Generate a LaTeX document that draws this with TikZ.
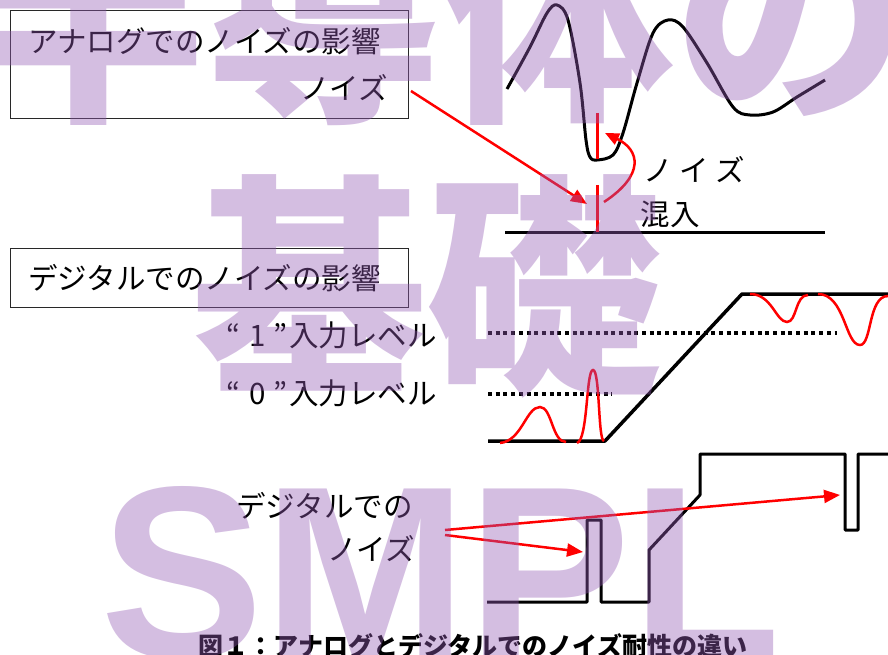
\documentclass[tikz,border=0pt]{standalone}
\usepackage{fontspec}
\setmainfont{Noto Sans CJK JP}
\newfontfamily\jp{Noto Sans CJK JP}
\newfontfamily\wmlat{Liberation Sans}
\usetikzlibrary{arrows.meta}
\definecolor{wm}{RGB}{148,92,180}
\definecolor{boxline}{RGB}{40,40,40}
\begin{document}
\begin{tikzpicture}[x=1pt,y=-1pt,
 lbl/.style={font=\jp\fontsize{29.5}{32}\selectfont, inner sep=0pt},
 frame/.style={draw=boxline, line width=1pt, inner sep=0pt, anchor=north west},
 wave/.style={line width=3pt, line join=round},
 noise/.style={red, line width=2.5pt},
 redarrow/.style={red, line width=2.5pt, -{Triangle[length=16pt,width=13pt]}},
 dotl/.style={line width=3.5pt, dash pattern=on 4pt off 3.7pt},
 wmtext/.style={text=wm, opacity=0.4, inner sep=0pt, anchor=base west}
]
\useasboundingbox (0,0) rectangle (888,655);
% ---------- analog ----------
\node[frame, minimum width=398pt, minimum height=108pt] (abox) at (10,10) {};
\node[lbl, anchor=west] (atitle) at (28,41) {アナログでのノイズの影響};
\node[lbl, anchor=east] (anoise) at (388,88) {ノイズ};
\draw[wave] plot[smooth, tension=0.55] coordinates {(507,89) (530,47) (547,13) (557,5) (568,20) (580,83) (586,140) (590,157) (597,160) (613,155) (623,133) (637,83) (653,33) (668,20) (683,27) (707,63) (733,107) (750,115) (773,112) (797,97) (825,80)};
\coordinate (abl) at (505,232); \coordinate (abr) at (825,232);
\draw[wave] (abl) -- (abr);
\coordinate (n1t) at (597,113); \coordinate (n1b) at (597,159);
\coordinate (n2t) at (597,185); \coordinate (n2b) at (597,232);
\draw[red, line width=3pt] (n1t) -- (n1b);
\draw[red, line width=3pt] (n2t) -- (n2b);
\coordinate (arA) at (411,91); \coordinate (arAt) at (587,204);
\draw[redarrow] (arA) -- (arAt);
\coordinate (cuS) at (604,202); \coordinate (cuE) at (605,133);
\draw[red, line width=2.5pt, -{Triangle[length=14pt,width=12pt]}] (cuS) .. controls (645,175) and (640,150) .. (cuE);
\node[lbl] (nzlbl) at (694,170) {ノ イ ズ};
\node[lbl] (konyu) at (670,214) {混入};
% ---------- digital ----------
\node[frame, minimum width=398pt, minimum height=59pt] (dbox) at (10,248) {};
\node[lbl, anchor=west] (dtitle) at (28,278) {デジタルでのノイズの影響};
\node[lbl, anchor=east] (one) at (437,335) {“\hspace{9pt}1\hspace{7pt}”\hspace{2pt}入力レベル};
\node[lbl, anchor=east] (zero) at (437,393) {“\hspace{9pt}0\hspace{7pt}”\hspace{2pt}入力レベル};
\coordinate (d1a) at (488,333); \coordinate (d1b) at (837,333);
\coordinate (d0a) at (488,394); \coordinate (d0b) at (612,394);
\draw[dotl] (d1a) -- (d1b);
\draw[dotl] (d0a) -- (d0b);
\draw[line width=3.5pt, line join=round] (488,441) -- (605,441) -- (742,294) -- (888,294);
\draw[noise] (500,443) .. controls (522,441) and (526,407) .. (540,407) .. controls (552,407) and (552,442) .. (566,442);
\draw[noise] (577,443) .. controls (588,440) and (586,370) .. (593,370) .. controls (600,370) and (598,441) .. (604,441);
\draw[noise] (750,294) .. controls (772,294) and (776,322) .. (787,322) .. controls (797,322) and (795,295) .. (808,295);
\draw[noise] (818,294) .. controls (845,294) and (845,345) .. (860,345) .. controls (872,345) and (868,296) .. (888,296);
% ---------- digital noise ----------
\draw[wave] (487,602) -- (587,602) -- (587,520) -- (601,520) -- (601,602) -- (649,602) -- (649,550) -- (700,495) -- (700,454) -- (845,454) -- (845,530) -- (858,530) -- (858,454) -- (888,454);
\node[lbl, anchor=east] (dl1) at (413,506) {デジタルでの};
\node[lbl, anchor=east] (dl2) at (415,549) {ノイズ};
\coordinate (dn1) at (445,530); \coordinate (dn1t) at (840,495);
\coordinate (dn2) at (445,535); \coordinate (dn2t) at (583,552);
\draw[redarrow] (dn1) -- (dn1t);
\draw[redarrow] (dn2) -- (dn2t);
\node[font=\jp\bfseries\fontsize{25}{27}\selectfont, inner sep=0pt, anchor=base] (cap) at (473,655) {図１：アナログとデジタルでのノイズ耐性の違い};
% ---------- watermark ----------
\node[wmtext, font=\jp\bfseries\fontsize{234}{240}\selectfont] (wm1) at (-28,104) {半導体の};
\node[wmtext, font=\jp\bfseries\fontsize{235}{240}\selectfont] (wm2) at (192,375) {基礎};
\node[wmtext, font=\wmlat\bfseries\fontsize{245}{250}\selectfont] (wm3) at (100,657) {SMPL};
\end{tikzpicture}
\end{document}
